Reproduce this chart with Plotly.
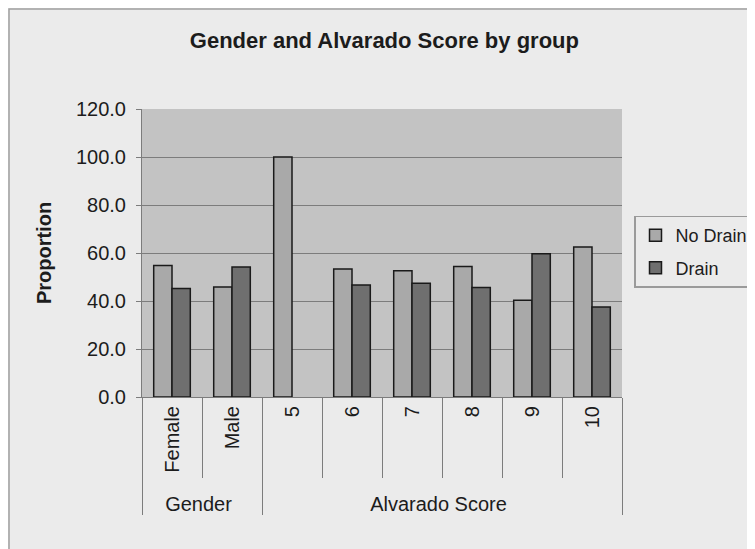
import plotly.graph_objects as go

groups = ["Gender", "Gender", "Alvarado Score", "Alvarado Score", "Alvarado Score",
          "Alvarado Score", "Alvarado Score", "Alvarado Score"]
categories = ["Female", "Male", "5", "6", "7", "8", "9", "10"]
no_drain = [54.8, 45.8, 100.0, 53.3, 52.6, 54.4, 40.3, 62.5]
drain = [45.2, 54.2, 0.0, 46.7, 47.4, 45.6, 59.7, 37.5]
y_ticks = [0, 20, 40, 60, 80, 100, 120]
y_tick_labels = ["0.0", "20.0", "40.0", "60.0", "80.0", "100.0", "120.0"]

FONT = "Liberation Sans, Arial, sans-serif"
TXT = "#1c1c1c"
PAPER = "#ebebeb"

# the page body has an 8px margin: lay the figure out in page coordinates minus 8
L, T, PW, PH = 142 - 8, 109 - 8, 480, 288
W, H = 755, 549


def outline(vals):
    return [0 if v == 0 else 1.5 for v in vals]


fig = go.Figure()
fig.add_trace(go.Bar(name="No Drain", x=[groups, categories], y=no_drain,
                     legendgroup="nodrain",
                     marker=dict(color="#a9a9a9",
                                 line=dict(color="#1a1a1a", width=outline(no_drain)))))
fig.add_trace(go.Bar(name="Drain", x=[groups, categories], y=drain,
                     legendgroup="drain",
                     marker=dict(color="#6f6f6f",
                                 line=dict(color="#1a1a1a", width=outline(drain)))))

fig.update_layout(
    width=W, height=H,
    margin=dict(l=L, r=W - L - PW, t=T, b=H - T - PH, autoexpand=False),
    paper_bgcolor=PAPER,
    plot_bgcolor="#c3c3c3",
    barmode="group",
    bargap=0.39,
    bargroupgap=0,
    font=dict(family=FONT, size=20, color=TXT),
    title=dict(text="<b>Gender and Alvarado Score by group</b>",
               x=0.505, xref="paper", xanchor="center",
               y=1 - 32 / H, yref="container", yanchor="middle",
               font=dict(family=FONT, size=22, color=TXT)),
    legend=dict(x=(634 - 142) / PW, y=0.63, xanchor="left", yanchor="top",
                bgcolor=PAPER, bordercolor="#9a9a9a", borderwidth=1.5,
                font=dict(family=FONT, size=18, color=TXT),
                tracegroupgap=6, itemwidth=30),
    showlegend=True,
)

fig.update_yaxes(
    range=[0, 120], tickvals=y_ticks, ticktext=y_tick_labels,
    showgrid=True, gridcolor="#7c7c7c", gridwidth=1,
    showline=True, linecolor="#7c7c7c", linewidth=1,
    ticks="outside", ticklen=5, tickcolor="#7c7c7c",
    ticklabelstandoff=6,
    zeroline=False,
    tickfont=dict(family=FONT, size=20, color=TXT),
    title=dict(text="<b>Proportion</b>", standoff=18,
               font=dict(family=FONT, size=20, color=TXT)),
)
fig.update_xaxes(
    type="multicategory",
    tickangle=-90,
    showline=True, linecolor="#7c7c7c", linewidth=1,
    ticks="outside", ticklen=80, tickcolor="#7c7c7c",
    showdividers=True, dividercolor="#7c7c7c", dividerwidth=1,
    tickfont=dict(family=FONT, size=20, color=TXT),
)

# outer chart-area border
fig.add_shape(type="rect", xref="paper", yref="paper",
              x0=(1 - L) / PW, x1=(W + 20 - L) / PW,
              y0=(T + PH - H - 20) / PH, y1=(T + PH - 1) / PH,
              line=dict(color="#a0a0a0", width=1.5), fillcolor="rgba(0,0,0,0)",
              layer="below")

fig.write_html("out.html")
